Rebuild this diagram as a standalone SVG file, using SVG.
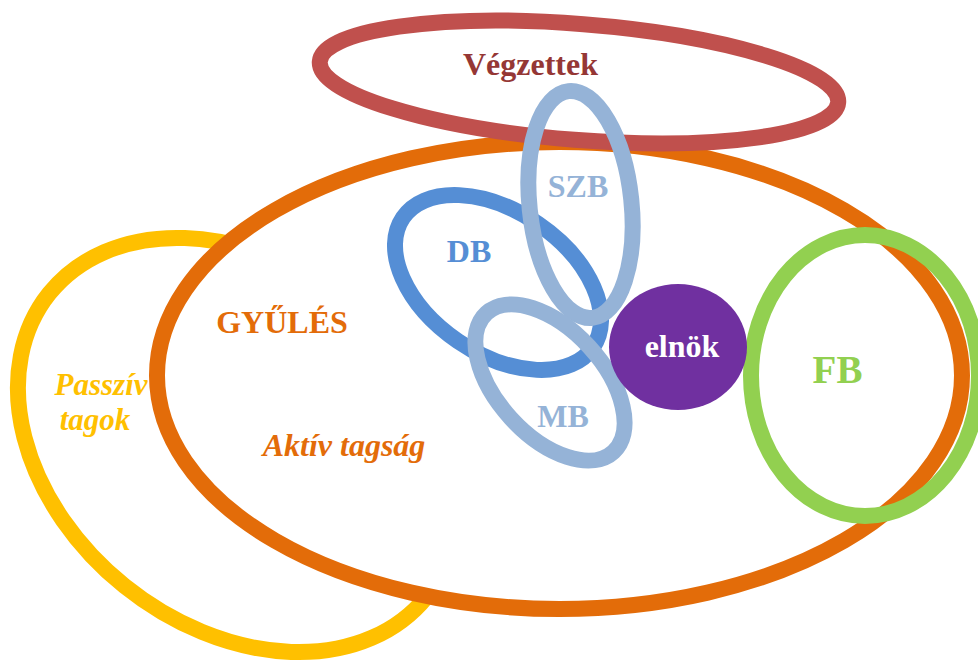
<svg xmlns="http://www.w3.org/2000/svg" width="978" height="662" viewBox="0 0 978 662">
<style>
.ring{fill:none;stroke-width:16}
.lbl{font-family:"Liberation Serif","Times New Roman",serif;font-weight:bold;font-size:32px;text-anchor:middle}
.it{font-style:italic}
.pt{font-size:31px}
.big{font-size:39px}
</style>
<rect width="978" height="662" fill="#FFFFFF"/>
<g id="passziv">
<ellipse class="ring" cx="238" cy="445" rx="242" ry="181" transform="rotate(38.8 238 445)" stroke="#FFC000"/>
<text class="lbl it pt" x="101" y="395" fill="#FFC000">Passzív</text>
<text class="lbl it pt" x="95" y="430" fill="#FFC000">tagok</text>
</g>
<g id="gyules">
<ellipse class="ring" cx="559.5" cy="375.5" rx="402.5" ry="233.5" stroke="#E36C09" style="fill:#FFFFFF"/>
<text class="lbl" x="282" y="333" fill="#E36C09">GYŰLÉS</text>
<text class="lbl it" x="344" y="456" fill="#E36C09">Aktív tagság</text>
</g>
<g id="vegzettek">
<ellipse class="ring" cx="579" cy="82" rx="260" ry="58" transform="rotate(4.5 579 82)" stroke="#C0504D"/>
<text class="lbl" x="530.5" y="75" fill="#953735">Végzettek</text>
</g>
<g id="fb">
<ellipse class="ring" cx="865" cy="375.5" rx="114" ry="140.5" stroke="#92D050"/>
<text class="lbl big" x="837.5" y="383" fill="#92D050">FB</text>
</g>
<g id="db">
<ellipse class="ring" cx="498" cy="282.5" rx="115" ry="71" transform="rotate(34.4 498 282.5)" stroke="#558ED5"/>
<text class="lbl" x="469" y="262" fill="#558ED5">DB</text>
</g>
<g id="szb">
<ellipse class="ring" cx="580.5" cy="204.5" rx="51" ry="114" transform="rotate(-6 580.5 204.5)" stroke="#95B3D7"/>
<text class="lbl" x="578" y="197" fill="#95B3D7">SZB</text>
</g>
<g id="mb">
<ellipse class="ring" cx="550" cy="382.5" rx="94" ry="53" transform="rotate(47.5 550 382.5)" stroke="#95B3D7"/>
<text class="lbl" x="563" y="427" fill="#95B3D7">MB</text>
</g>
<g id="elnok">
<ellipse cx="678" cy="347" rx="69" ry="63" fill="#7030A0"/>
<text class="lbl" x="682" y="357" fill="#FFFFFF">elnök</text>
</g>
<g id="connectors"/>
</svg>
